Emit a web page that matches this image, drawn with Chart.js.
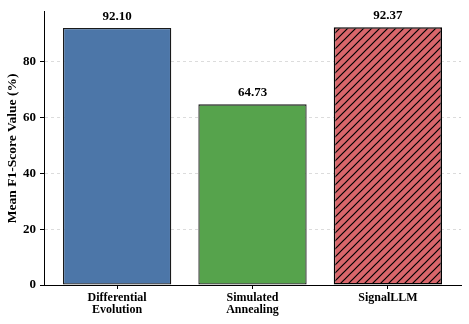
<!DOCTYPE html>
<html>
<head>
<meta charset="utf-8">
<script src="https://cdn.jsdelivr.net/npm/chart.js@4"></script>
<style>
  html, body { margin: 0; padding: 0; background: #fff; }
  #wrap { width: 469px; height: 324px; }
</style>
</head>
<body>
<div id="wrap"><canvas id="chart" width="469" height="324"></canvas></div>
<script>
const categories = [["Differential", "Evolution"], ["Simulated", "Annealing"], "SignalLLM"];
const f1Values = [92.10, 64.73, 92.37];
const yTicks = [0, 20, 40, 60, 80];

const FONT = "'Liberation Serif', 'DejaVu Serif', serif";

// hatch fill for the last bar
function makeHatch() {
  const c = document.createElement("canvas");
  c.width = 8; c.height = 8;
  const g = c.getContext("2d");
  g.fillStyle = "#d9666b";
  g.fillRect(0, 0, 8, 8);
  g.strokeStyle = "#000";
  g.lineWidth = 1.2;
  g.beginPath();
  g.moveTo(-1, 9); g.lineTo(9, -1);
  g.moveTo(-1, 1); g.lineTo(1, -1);
  g.moveTo(7, 9); g.lineTo(9, 7);
  g.stroke();
  return g.createPattern(c, "repeat");
}

const fills = ["#4c76a8", "#56a34c", makeHatch()];
const borders = ["#1a1a1a", "#1a1a1a", "#000"];
const borderW = [1.3, 1.3, 1.6];

// value labels on top of bars
const valueLabels = {
  id: "valueLabels",
  afterDatasetsDraw(chart) {
    const ctx = chart.ctx;
    const meta = chart.getDatasetMeta(0);
    ctx.save();
    ctx.font = "bold 13px " + FONT;
    ctx.fillStyle = "#000";
    ctx.textAlign = "center";
    ctx.textBaseline = "bottom";
    meta.data.forEach((bar, i) => {
      ctx.fillText(f1Values[i].toFixed(2), bar.x, bar.y - 5);
    });
    ctx.restore();
  }
};

new Chart(document.getElementById("chart"), {
  type: "bar",
  data: {
    datasets: [{
      data: f1Values.map((v, i) => ({ x: i, y: v })),
      backgroundColor: fills,
      borderColor: borders,
      borderWidth: borderW,
      borderSkipped: false,
      barPercentage: 0.8,
      categoryPercentage: 1.0
    }]
  },
  options: {
    responsive: false,
    animation: false,
    layout: { padding: { top: 8, right: 8, left: 0, bottom: 0 } },
    plugins: { legend: { display: false }, tooltip: { enabled: false } },
    scales: {
      x: {
        type: "linear",
        min: -0.54,
        max: 2.54,
        offset: false,
        afterBuildTicks: s => { s.ticks = categories.map((c, i) => ({ value: i })); },
        afterFit: s => { s.height = 39; },
        ticks: {
          callback: v => categories[v],
          color: "#000",
          font: { family: FONT, size: 12, weight: "bold", lineHeight: 1.0 },
          padding: 3,
          maxRotation: 0,
          autoSkip: false
        },
        grid: { offset: false, drawOnChartArea: false, drawTicks: true, tickLength: 4, tickColor: "#000" },
        border: { display: true, color: "#000", width: 1 }
      },
      y: {
        min: 0,
        max: 97.9,
        z: 1,
        afterBuildTicks: s => { s.ticks = yTicks.map(v => ({ value: v })); },
        afterFit: s => { s.width = 44; },
        ticks: {
          color: "#000",
          font: { family: FONT, size: 13, weight: "bold" },
          padding: 4
        },
        grid: {
          color: ctx => ctx.tick && ctx.tick.value === 0 ? "rgba(0,0,0,0)" : "rgba(170,170,170,0.5)",
          lineWidth: 0.8,
          tickLength: 4,
          tickColor: "#000",
          tickWidth: 1
        },
        border: { display: true, color: "#000", width: 1, dash: [3, 3] },
        title: {
          display: true,
          text: "Mean F1-Score Value (%)",
          color: "#000",
          font: { family: FONT, size: 13.5, weight: "bold" },
          padding: { top: 4, bottom: 0 }
        }
      }
    }
  },
  plugins: [valueLabels]
});
</script>
</body>
</html>
